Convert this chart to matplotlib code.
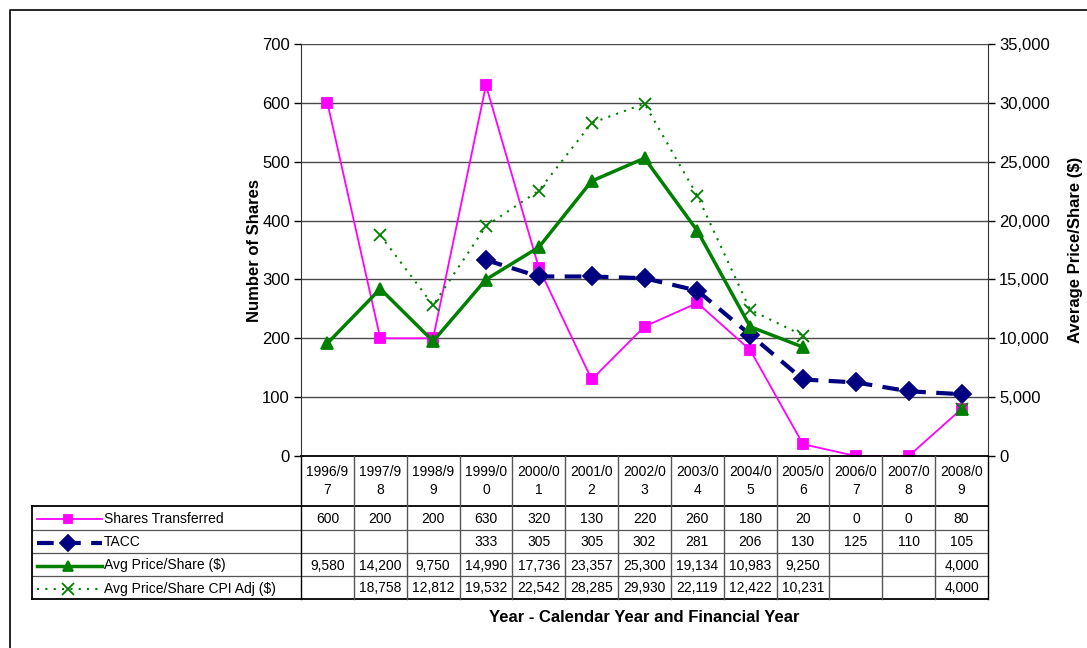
import numpy as np
import matplotlib
matplotlib.use("Agg")
import matplotlib.pyplot as plt
import matplotlib.transforms as mtransforms

plt.rcParams['font.family'] = ['Liberation Sans', 'DejaVu Sans']

# --- data ---
years = ["1996/9\n7", "1997/9\n8", "1998/9\n9", "1999/0\n0", "2000/0\n1", "2001/0\n2",
         "2002/0\n3", "2003/0\n4", "2004/0\n5", "2005/0\n6", "2006/0\n7", "2007/0\n8",
         "2008/0\n9"]
shares = [600, 200, 200, 630, 320, 130, 220, 260, 180, 20, 0, 0, 80]
tacc = [np.nan, np.nan, np.nan, 333, 305, 305, 302, 281, 206, 130, 125, 110, 105]
avg_price = [9580, 14200, 9750, 14990, 17736, 23357, 25300, 19134, 10983, 9250,
             np.nan, np.nan, 4000]
cpi_price = [np.nan, 18758, 12812, 19532, 22542, 28285, 29930, 22119, 12422, 10231,
             np.nan, np.nan, 4000]

W, H = 1087, 648
fig = plt.figure(figsize=(W / 100, H / 100), dpi=100)

# plot area in pixels
left, right, top, bottom = 301, 988, 44, 456
ax = fig.add_axes([left / W, 1 - bottom / H, (right - left) / W, (bottom - top) / H])
ax2 = ax.twinx()

x = np.arange(len(years))
magenta = '#FF00FF'
navy = '#000080'
green = '#008000'

# style per series: (color, lw, marker, ms, dashes)
styles = [
    (magenta, 1.3, 's', 7, None),
    (navy, 3, 'D', 9, (4, 2.5)),
    (green, 2.5, '^', 8, None),
    (green, 1.5, 'x', 9, (1, 3)),
]


def draw(axis, xs, ys, st, **kw):
    c, lw, m, ms, d = st
    extra = {} if d is None else {'dashes': d}
    return axis.plot(xs, ys, color=c, lw=lw, marker=m, ms=ms, mew=1.3, **extra, **kw)


# secondary-axis series sit on top, like in Excel
draw(ax, x, shares, styles[0], zorder=5)
draw(ax, x, tacc, styles[1], zorder=6)
draw(ax2, x, cpi_price, styles[3], zorder=4)
draw(ax2, x, avg_price, styles[2], zorder=5)

ax.set_xlim(-0.5, len(years) - 0.5)
ax.set_ylim(0, 700)
ax2.set_ylim(0, 35000)
ax.set_yticks(np.arange(0, 701, 100))
ax2.set_yticks(np.arange(0, 35001, 5000))
ax2.set_yticklabels([f"{v:,}" for v in range(0, 35001, 5000)])
ax.set_xticks([])
ax.grid(axis='y', color='#4a4a4a', lw=1)
ax.set_axisbelow(True)

for a in (ax, ax2):
    a.spines['top'].set_visible(False)
    a.spines['bottom'].set_visible(False)
    a.tick_params(axis='y', labelsize=12, length=5, width=1, direction='out', pad=3)
ax.spines['right'].set_visible(False)
ax2.spines['left'].set_visible(False)
ax.spines['left'].set_color('#333333')
ax2.spines['right'].set_color('#333333')

ax.set_ylabel("Number of Shares", fontsize=12, fontweight='bold', labelpad=0)
ax2.set_ylabel("Average Price/Share ($)", fontsize=12, fontweight='bold', labelpad=13)

# --- data table below the chart (pixel overlay) ---
ov = fig.add_axes([0, 0, 1, 1])
ov.set_xlim(0, W)
ov.set_ylim(H, 0)
ov.axis('off')
ov.patch.set_visible(False)
blend = mtransforms.blended_transform_factory(ax.transData, ov.transData)

rows_y = [456, 506, 530, 553, 576, 599]
tab_left = 32
colw = (right - left) / len(years)

# horizontal lines
ov.plot([left, right], [rows_y[0], rows_y[0]], color='black', lw=1.3)
for yy in rows_y[1:]:
    thick = yy in (506, 599)
    ov.plot([tab_left, right], [yy, yy], color='black' if thick else '#555555',
            lw=1.3 if thick else 0.9)
# vertical lines
for i in range(len(years) + 1):
    xx = left + i * colw
    c = 'black' if i in (0, len(years)) else '#555555'
    ov.plot([xx, xx], [rows_y[0], rows_y[-1]], color=c, lw=1.0)
ov.plot([tab_left, tab_left], [rows_y[1], rows_y[-1]], color='black', lw=1.3)

# header
for i, lab in enumerate(years):
    ov.text(i, (rows_y[0] + rows_y[1]) / 2, lab, transform=blend, ha='center',
            va='center', fontsize=10, linespacing=1.35)

fmt_rows = [
    [f"{v}" for v in shares],
    ["" if np.isnan(v) else f"{int(v)}" for v in tacc],
    ["" if np.isnan(v) else f"{int(v):,}" for v in avg_price],
    ["" if np.isnan(v) else f"{int(v):,}" for v in cpi_price],
]
labels = ["Shares Transferred", "TACC", "Avg Price/Share ($)", "Avg Price/Share CPI Adj ($)"]
for r, (vals, lab, st) in enumerate(zip(fmt_rows, labels, styles)):
    yc = (rows_y[r + 1] + rows_y[r + 2]) / 2 + 1
    for i, v in enumerate(vals):
        ov.text(i, yc, v, transform=blend, ha='center', va='center', fontsize=10)
    c, lw, m, ms, d = st
    draw(ov, [37, 102], [yc, yc], (c, lw, None, ms, d))
    ov.plot([68], [yc], marker=m, ms=ms * 0.9, color=c, mew=1.3, linestyle='none')
    ov.text(104, yc, lab, ha='left', va='center', fontsize=10)

ov.text((left + right) / 2, 618, "Year - Calendar Year and Financial Year",
        ha='center', va='center', fontsize=12, fontweight='bold')

# outer frame
ov.plot([10, 10, W + 5], [H + 5, 10, 10], color='black', lw=1.2)

fig.savefig("out.png", dpi=100)
